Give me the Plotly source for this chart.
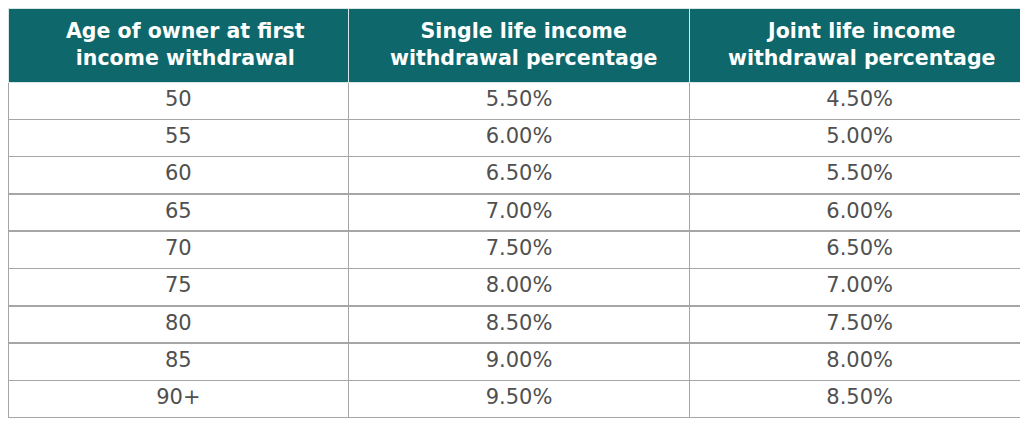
import plotly.graph_objects as go

# table contents
headers = [
    "Age of owner at first<br>income withdrawal",
    "Single life income<br>withdrawal percentage",
    "Joint life income<br>withdrawal percentage",
]
ages = ["50", "55", "60", "65", "70", "75", "80", "85", "90+"]
single_pct = ["5.50%", "6.00%", "6.50%", "7.00%", "7.50%", "8.00%", "8.50%", "9.00%", "9.50%"]
joint_pct = ["4.50%", "5.00%", "5.50%", "6.00%", "6.50%", "7.00%", "7.50%", "8.00%", "8.50%"]

teal = "#0e686b"
grid = "#a6a6a6"
W, H = 1028, 426
mr = 6
head_h = 74
# plotly insets the table by ~8px at left/top
tbl_left, tbl_top = 8, 8
col_w = (W - mr - tbl_left) / 3

fig = go.Figure(
    go.Table(
        domain=dict(x=[0, 1], y=[0, 1]),
        columnwidth=[1, 1, 1],
        header=dict(
            values=["", "", ""],
            fill_color=teal,
            line=dict(color="#d8e6e6", width=1),
            height=head_h,
        ),
        cells=dict(
            values=[ages, single_pct, joint_pct],
            fill_color="white",
            line=dict(color=grid, width=1.5),
            align="center",
            font=dict(family="DejaVu Sans", size=21, color="#505050"),
            height=37.3,
        ),
    )
)

# header text as centred annotations (table headers left-align wrapped lines)
plot_w = W - mr
for i, h in enumerate(headers):
    cx = tbl_left + col_w * (i + 0.5)
    fig.add_annotation(
        x=cx / plot_w, y=1 - (tbl_top + head_h / 2 - 9) / H,
        xref="paper", yref="paper", xanchor="center", yanchor="middle",
        text=f"<b>{h}</b>", showarrow=False, align="center",
        font=dict(family="DejaVu Sans", size=20.5, color="white"),
    )

fig.update_layout(
    width=W,
    height=H,
    margin=dict(l=0, r=mr, t=0, b=0),
    paper_bgcolor="white",
)

fig.write_html("out.html")
